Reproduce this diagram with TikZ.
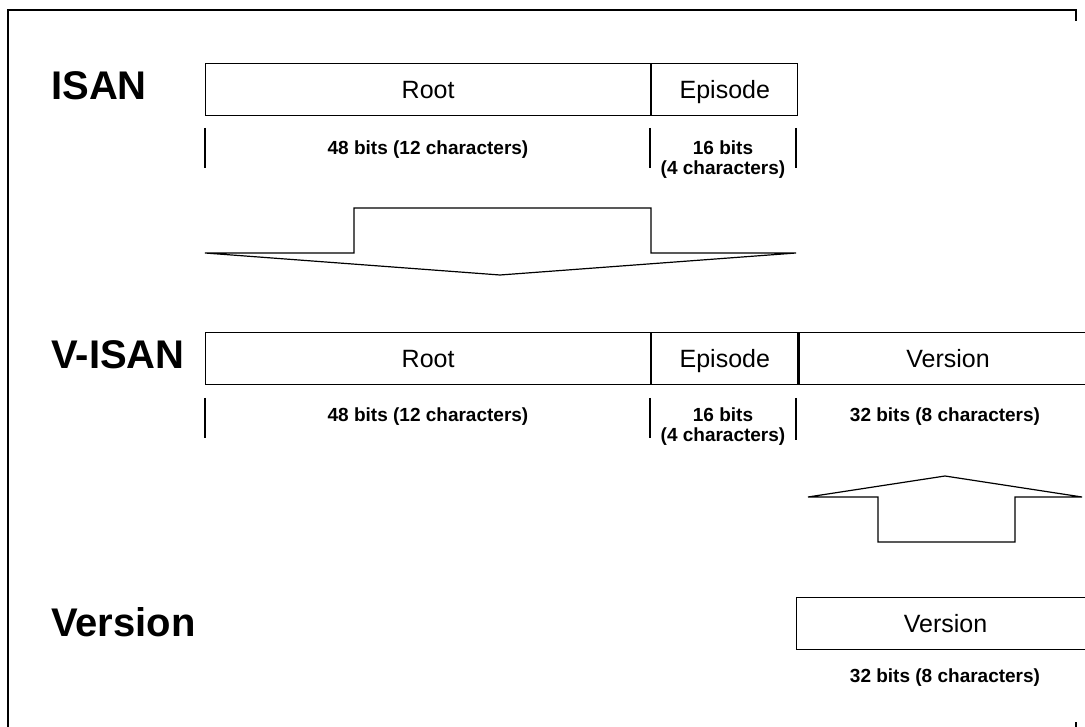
\documentclass[tikz,border=0pt]{standalone}
\usepackage{fontspec}
\setmainfont{Liberation Sans}
\tikzset{
  field/.style={draw, line width=1.2pt, minimum height=52pt, inner sep=0pt,
    text height=18pt, text depth=0pt, anchor=north west, font=\fontsize{25}{30}\selectfont},
  bits/.style={font=\bfseries\fontsize{19}{20}\selectfont, align=center,
    anchor=north, inner sep=0pt},
  title/.style={font=\bfseries\fontsize{40}{48}\selectfont, anchor=west, inner sep=0pt},
  tickline/.style={line width=1.2pt},
  outline/.style={line width=1.2pt, line join=miter}
}
\begin{document}
\begin{tikzpicture}[x=1pt, y=-1pt]
\useasboundingbox (0,0) rectangle (1085,727);
\clip (0,0) rectangle (1085,727);
% frame
\draw[line width=2.6pt] (8,740) -- (8,10) -- (1076,10) -- (1076,21);
\draw[line width=2.6pt] (1076,722) -- (1076,740);
% ISAN
\node[title] (isan) at (51,86) {ISAN};
\node[field, minimum width=445pt] (root) at (205,63) {Root};
\node[field, minimum width=146pt] (episode) at (root.north east) {Episode};
\draw[tickline] (205,128) -- (205,168);
\draw[tickline] (650,128) -- (650,168);
\draw[tickline] (796,128) -- (796,168);
\node[bits] (rootbits) at (428,141) {48 bits (12 characters)};
\node[bits] (episodebits) at (723,141) {16 bits\\(4 characters)};
% down arrow
\draw[outline] (205,253) -- (354,253) -- (354,208) -- (651,208) -- (651,253) -- (796,253)
  -- (500,275) -- cycle;
% V-ISAN
\node[title] (visan) at (51,355) {V-ISAN};
\node[field, minimum width=445pt] (vroot) at (205,332) {Root};
\node[field, minimum width=146pt] (vepisode) at (vroot.north east) {Episode};
\node[field, minimum width=298pt] (vversion) at (vepisode.north east) {Version};
\draw[tickline] (205,398) -- (205,438);
\draw[tickline] (650,398) -- (650,438);
\draw[tickline] (796,398) -- (796,440);
\node[bits] (vrootbits) at (428,408) {48 bits (12 characters)};
\node[bits] (vepisodebits) at (723,408) {16 bits\\(4 characters)};
\node[bits] (vversionbits) at (945,408) {32 bits (8 characters)};
% up arrow
\draw[outline] (808,497) -- (878,497) -- (878,542) -- (1015,542) -- (1015,497) -- (1082,497)
  -- (945,476) -- cycle;
% Version
\node[title] (version) at (51,622) {Version};
\node[field, minimum width=298pt] (vbox) at (796,597) {Version};
\node[bits] (versionbits) at (945,669) {32 bits (8 characters)};
\end{tikzpicture}
\end{document}
